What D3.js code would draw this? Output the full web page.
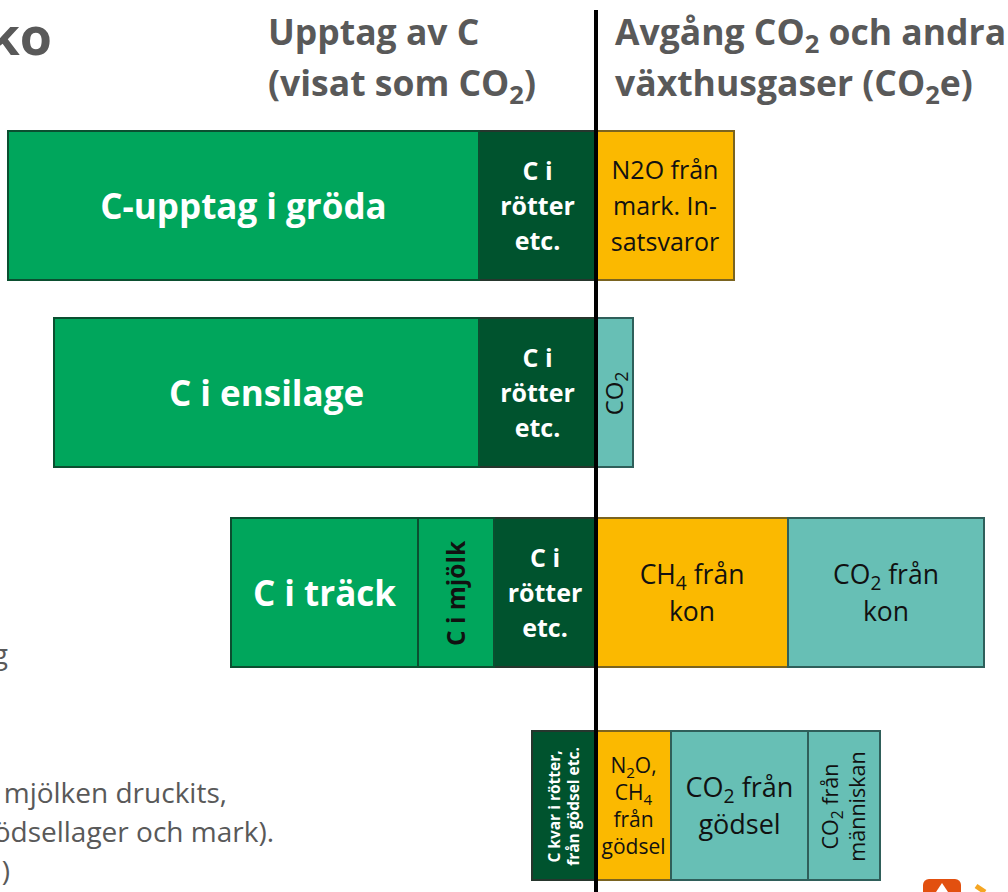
<!DOCTYPE html>
<html><head><meta charset="utf-8">
<script src="https://cdn.jsdelivr.net/npm/d3@7"></script>
<style>html,body{margin:0;padding:0;background:#fff;overflow:hidden}svg{display:block}text{font-family:"Open Sans",Lato,sans-serif}</style>
</head><body><svg id="c" width="1008" height="892"></svg>
<script>
// Values (chart units; 0 = the vertical divider)
const rows = ["Gröda","Ensilage","Ko","Gödsel"];
const uptake = [[117,471],[117,425],[102,76,187],[64]];
const release = [[138],[37],[192,196],[75,137,72]];
const uptakeLabels = [
  ["C i|rötter|etc.","C-upptag i gröda"],
  ["C i|rötter|etc.","C i ensilage"],
  ["C i|rötter|etc.","C i mjölk","C i träck"],
  ["C kvar i rötter,|från gödsel etc."]
];
const releaseLabels = [
  ["N2O från|mark. In-|satsvaror"],
  ["CO_2"],
  ["CH_4 från|kon","CO_2 från|kon"],
  ["N_2O,|CH_4|från|gödsel","CO_2 från|gödsel","CO_2 från|människan"]
];
const uptakeKinds = [["root","crop"],["root","crop"],["root","crop","crop"],["root"]];
const releaseKinds = [["gas"],["co2"],["gas","co2"],["gas","co2","co2"]];
const headLeft = ["Upptag av C","(visat som CO_2)"];
const headRight = ["Avgång CO_2 och andra","växthusgaser (CO_2e)"];
const cutTitle = "ko";
const cutNotes = ["g","mjölken druckits,","ödsellager och mark).",")"];

// layout
const W = 1008, zero = 596;
const x = d3.scaleLinear().domain([-zero, W - zero]).range([0, W]);
const y = d3.scaleOrdinal().domain(rows).range([131, 318, 518, 731]);
const barH = 149;
const fills = {root:"#00532E",crop:"#00A65C",gas:"#FBB900",co2:"#67BFB5"};
const strokes = {root:"#26362d",crop:"#0b4f30",gas:"#7a6420",co2:"#2f5f5a"};
const inks = {root:"#fff",crop:"#fff",gas:"#111",co2:"#111"};
const svg = d3.select("#c");
const sz = {
  "C-upptag i gröda":35,"C i ensilage":35,"C i träck":35,"C i mjölk":24.5,
  "C kvar i rötter,|från gödsel etc.":15.5,"N_2O,|CH_4|från|gödsel":21,
  "CO_2 från|människan":21.5,"CO_2":24,"C i|rötter|etc.":25,
  "CO_2 från|gödsel":27,"CH_4 från|kon":26.5,"CO_2 från|kon":26.5,"N2O från|mark. In-|satsvaror":25
};
const lh = {"C kvar i rötter,|från gödsel etc.":19,"N_2O,|CH_4|från|gödsel":27,"CO_2 från|människan":27,"CO_2 från|gödsel":37,"CH_4 från|kon":37,"CO_2 från|kon":37,"N2O från|mark. In-|satsvaror":36,"C i|rötter|etc.":35};
const rotated = new Set(["C i mjölk","C kvar i rötter,|från gödsel etc.","CO_2 från|människan","CO_2"]);
const bold = new Set(["C-upptag i gröda","C i ensilage","C i träck","C i mjölk","C i|rötter|etc.","C kvar i rötter,|från gödsel etc."]);

function addLine(t, str, size){
  // "_d" marks a subscript digit
  t.attr("font-size",size);
  let back = 0;
  str.split(/(_\d)/).forEach(p=>{
    if(/^_\d$/.test(p)){
      t.append("tspan").attr("dy",size*0.22).attr("font-size",size*0.72).text(p[1]);
      back = -size*0.22;
    } else if(p){
      t.append("tspan").attr("dy",back).attr("font-size",size).text(p);
      back = 0;
    }
  });
}
function segments(vals, sign, labels, kinds, row){
  let acc = 0;
  vals.forEach((v,i)=>{
    const a = x(sign*acc), b = x(sign*(acc+v)); acc += v;
    const l = Math.min(a,b), w = Math.abs(b-a), k = kinds[i];
    svg.append("rect").attr("x",l).attr("y",y(row)).attr("width",w).attr("height",barH)
      .attr("fill",fills[k]).attr("stroke",strokes[k]).attr("stroke-width",2);
    const key = labels[i], lines = key.split("|");
    const s = sz[key] || 24, h = lh[key] || s*1.2;
    const cx = l+w/2, cy = y(row)+barH/2;
    const g = svg.append("g").attr("transform",`translate(${cx},${cy+1})`+(rotated.has(key)?" rotate(-90)":""));
    lines.forEach((ln,j)=>{
      const t = g.append("text").attr("text-anchor","middle")
        .attr("y",(j-(lines.length-1)/2)*h + s*0.35)
        .attr("fill", key==="C i mjölk"?"#111":inks[k])
        .attr("font-weight",bold.has(key)?700:400);
      addLine(t,ln,s);
    });
  });
}
rows.forEach((r,i)=>{
  segments(uptake[i],-1,uptakeLabels[i],uptakeKinds[i],r);
  segments(release[i],1,releaseLabels[i],releaseKinds[i],r);
});
// divider (value 0)
svg.append("line").attr("x1",x(0)).attr("x2",x(0)).attr("y1",10).attr("y2",892)
  .attr("stroke","#000").attr("stroke-width",4);

function head(lines, xp){
  lines.forEach((ln,j)=>{
    const t = svg.append("text").attr("x",xp).attr("y",45+j*51)
      .attr("fill","#595959").attr("font-weight",700);
    addLine(t,ln,35.5);
  });
}
head(headLeft,268); head(headRight,615);
svg.append("text").attr("x",52).attr("y",55).attr("text-anchor","end")
  .attr("font-size",52).attr("font-weight",700).attr("fill","#595959").text(cutTitle);
const noteY = [664,803,842,881], noteX = [8,227,274,10];
cutNotes.forEach((n,i)=>svg.append("text").attr("x",noteX[i]).attr("y",noteY[i])
  .attr("text-anchor","end").attr("font-size",28).attr("fill","#595959").text(n));

// logo fragment at the lower right edge
svg.append("rect").attr("x",923).attr("y",879).attr("width",38).attr("height",30).attr("rx",6).attr("fill","#E2500F");
svg.append("path").attr("d","M936 892 L942 883 L948 892Z").attr("fill","#fff");
svg.append("path").attr("d","M976 886 L985 892").attr("stroke","#F5A623").attr("stroke-width",5).attr("fill","none");
</script></body></html>
